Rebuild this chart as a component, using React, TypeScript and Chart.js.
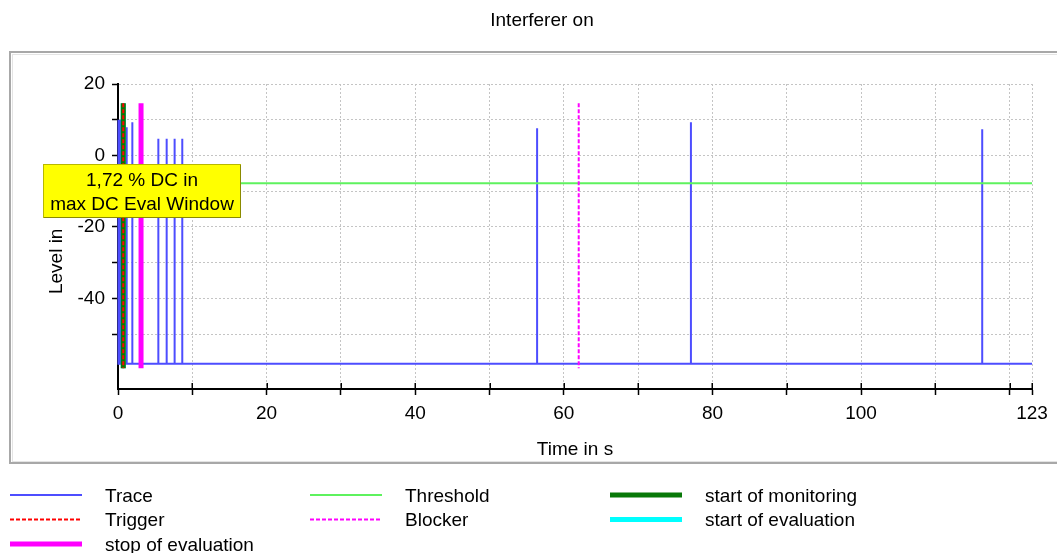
import React, { useEffect, useRef } from "react";
import { Chart, registerables } from "chart.js";

Chart.register(...registerables);

// ---------- data ----------
const TIME_MAX = 123;
const LEVEL_MIN = -65.4;
const LEVEL_MAX = 20;
const BASELINE = -58.3;

const spikeTimes = [0, 0.12, 0.24, 0.36, 1.17, 1.93, 5.43, 6.55, 7.62, 8.65, 56.4, 77.1, 116.3];
const spikeLevels = [10.0, 10.0, 10.0, 10.0, 7.9, 9.3, 4.7, 4.7, 4.7, 4.7, 7.6, 9.3, 7.3];

const thresholdLevel = -7.8;
const markerTop = 14.6;
const markerBottom = -59.6;
const triggerTime = 0.71;
const monitoringStartTime = 0.71;
const evaluationStartTime = 0.71;
const evaluationStopTime = 3.1;
const blockerTime = 62.0;

const xTickValues = [0, 10, 20, 30, 40, 50, 60, 70, 80, 90, 100, 110, 120, 123];
const xLabelValues = [0, 20, 40, 60, 80, 100, 123];
const yTickValues = [20, 10, 0, -10, -20, -30, -40, -50];
const yLabelValues = [20, 0, -20, -40];

const chartTitle = "Interferer on";
const xTitle = "Time in s";
const yTitle = "Level in  dBm";
const infoLines = ["1,72 % DC in", "max DC Eval Window"];

const FONT = '"Liberation Sans", Arial, sans-serif';

// ---------- helpers ----------
function buildTrace() {
  const pts: { x: number; y: number }[] = [{ x: 0, y: BASELINE }];
  spikeTimes.forEach((t, i) => {
    pts.push({ x: t, y: BASELINE }, { x: t, y: spikeLevels[i] }, { x: t, y: BASELINE });
  });
  pts.push({ x: TIME_MAX, y: BASELINE });
  return pts;
}

function marker(t: number) {
  return [
    { x: t, y: markerTop },
    { x: t, y: markerBottom },
  ];
}

// legend order (dataset indices): Trace, Threshold, start of monitoring, Trigger, Blocker, start of evaluation, stop of evaluation
const legendOrder = [6, 5, 1, 0, 4, 2, 3];

const decorPlugin = {
  id: "decor",
  beforeDraw(chart: any) {
    const { ctx } = chart;
    ctx.save();
    ctx.fillStyle = "#ffffff";
    ctx.fillRect(0, 0, chart.width, chart.height);
    ctx.strokeStyle = "#e4e4e4";
    ctx.lineWidth = 1;
    ctx.strokeRect(12.5, 54.5, chart.width + 40, 407);
    ctx.strokeStyle = "#a8a8a8";
    ctx.lineWidth = 2;
    ctx.strokeRect(10, 52, chart.width + 40, 411);
    ctx.restore();
  },
  afterDraw(chart: any) {
    const { ctx } = chart;
    ctx.save();
    // upper half of the x tick marks (they cross the axis line)
    const xs = chart.scales.x;
    ctx.strokeStyle = "#000";
    ctx.lineWidth = 1.5;
    ctx.beginPath();
    xs.ticks.forEach((t: any) => {
      const px = Math.round(xs.getPixelForValue(t.value)) + 0.25;
      ctx.moveTo(px, xs.top - 6);
      ctx.lineTo(px, xs.top);
    });
    ctx.stroke();

    // title
    ctx.fillStyle = "#000";
    ctx.font = `19px ${FONT}`;
    ctx.textAlign = "center";
    ctx.textBaseline = "middle";
    ctx.fillText(chartTitle, 542, 21);

    // info box
    const bx = 43, by = 164, bw = 198, bh = 54;
    ctx.fillStyle = "#ffff00";
    ctx.fillRect(bx, by, bw, bh);
    ctx.strokeStyle = "#b8b800";
    ctx.lineWidth = 1;
    ctx.strokeRect(bx + 0.5, by + 0.5, bw - 1, bh - 1);
    ctx.strokeStyle = "#8a8a00";
    ctx.beginPath();
    ctx.moveTo(bx + bw - 0.5, by + 1);
    ctx.lineTo(bx + bw - 0.5, by + bh - 0.5);
    ctx.lineTo(bx + 1, by + bh - 0.5);
    ctx.stroke();
    ctx.fillStyle = "#000";
    ctx.fillText(infoLines[0], bx + bw / 2, 181);
    ctx.fillText(infoLines[1], bx + bw / 2, 205);

    // legend
    const ds = chart.data.datasets;
    ctx.textAlign = "left";
    legendOrder.forEach((di, k) => {
      const d = ds[di];
      const col = k % 3;
      const row = Math.floor(k / 3);
      const x0 = 10 + col * 300;
      const y = 495 + row * 24.5;
      ctx.save();
      ctx.strokeStyle = d.borderColor;
      ctx.lineWidth = d.borderWidth;
      ctx.setLineDash(d.borderDash || []);
      ctx.beginPath();
      ctx.moveTo(x0, y);
      ctx.lineTo(x0 + 72, y);
      ctx.stroke();
      ctx.restore();
      ctx.fillStyle = "#000";
      ctx.fillText(d.label, x0 + 95, y + 1.5);
    });
    ctx.restore();
  },
};

export default function App() {
  const ref = useRef<HTMLCanvasElement | null>(null);

  useEffect(() => {
    document.body.style.margin = "0";
    document.body.style.overflow = "hidden";
    Chart.defaults.font.family = FONT;
    Chart.defaults.font.size = 19;
    Chart.defaults.color = "#000";

    const canvas = ref.current;
    if (!canvas) return;

    const chart = new Chart(canvas, {
      type: "line",
      data: {
        datasets: [
          {
            label: "Trigger",
            data: marker(triggerTime),
            borderColor: "#ff0000",
            borderWidth: 2,
            borderDash: [4, 2],
          },
          {
            label: "start of monitoring",
            data: marker(monitoringStartTime),
            borderColor: "#087808",
            borderWidth: 5,
          },
          {
            label: "start of evaluation",
            data: marker(evaluationStartTime),
            borderColor: "#00ffff",
            borderWidth: 5,
          },
          {
            label: "stop of evaluation",
            data: marker(evaluationStopTime),
            borderColor: "#ff00ff",
            borderWidth: 5,
          },
          {
            label: "Blocker",
            data: marker(blockerTime),
            borderColor: "#ff00ff",
            borderWidth: 2,
            borderDash: [4, 2],
          },
          {
            label: "Threshold",
            data: [
              { x: 0, y: thresholdLevel },
              { x: TIME_MAX, y: thresholdLevel },
            ],
            borderColor: "#5ef25e",
            borderWidth: 2,
          },
          {
            label: "Trace",
            data: buildTrace(),
            borderColor: "#4d4dff",
            borderWidth: 2,
            clip: false,
          },
        ] as any,
      },
      options: {
        responsive: false,
        animation: false,
        events: [],
        layout: { padding: { left: 0, right: 25, top: 84, bottom: 89 } },
        elements: {
          point: { radius: 0 },
          line: { tension: 0, borderCapStyle: "butt" },
        },
        plugins: {
          legend: { display: false },
          tooltip: { enabled: false },
          title: { display: false },
        },
        scales: {
          x: {
            type: "linear",
            min: 0,
            max: TIME_MAX,
            afterBuildTicks: (scale: any) => {
              scale.ticks = xTickValues.map((v) => ({ value: v }));
            },
            afterFit: (scale: any) => {
              scale.height = 75;
            },
            ticks: {
              autoSkip: false,
              maxRotation: 0,
              padding: 7.5,
              callback: (v: any) => (xLabelValues.includes(Number(v)) ? String(v) : ""),
            },
            grid: {
              color: "#c4c4c4",
              lineWidth: 1,
              tickColor: "#000",
              tickLength: 6,
              tickWidth: 1.5,
              tickBorderDash: [],
            },
            border: { display: true, color: "#000", width: 2, dash: [2, 2] },
            title: { display: true, text: xTitle, padding: { top: 0, bottom: 2.6 } },
          },
          y: {
            type: "linear",
            min: LEVEL_MIN,
            max: LEVEL_MAX,
            afterBuildTicks: (scale: any) => {
              scale.ticks = yTickValues.map((v) => ({ value: v }));
            },
            afterFit: (scale: any) => {
              scale.width = 118;
            },
            ticks: {
              autoSkip: false,
              padding: 7,
              callback: (v: any) => (yLabelValues.includes(Number(v)) ? String(v) : ""),
            },
            grid: {
              color: "#c4c4c4",
              lineWidth: 1,
              tickColor: "#000",
              tickLength: 6,
              tickWidth: 1.5,
              tickBorderDash: [],
            },
            border: { display: true, color: "#000", width: 2, dash: [2, 2] },
            title: { display: true, text: yTitle, padding: { top: 45.6, bottom: 0 } },
          },
        },
      } as any,
      plugins: [decorPlugin],
    });

    return () => chart.destroy();
  }, []);

  return (
    <div style={{ position: "relative", width: 1057, height: 553 }}>
      <canvas ref={ref} width={1057} height={553} style={{ display: "block", width: 1057, height: 553 }} />
    </div>
  );
}
